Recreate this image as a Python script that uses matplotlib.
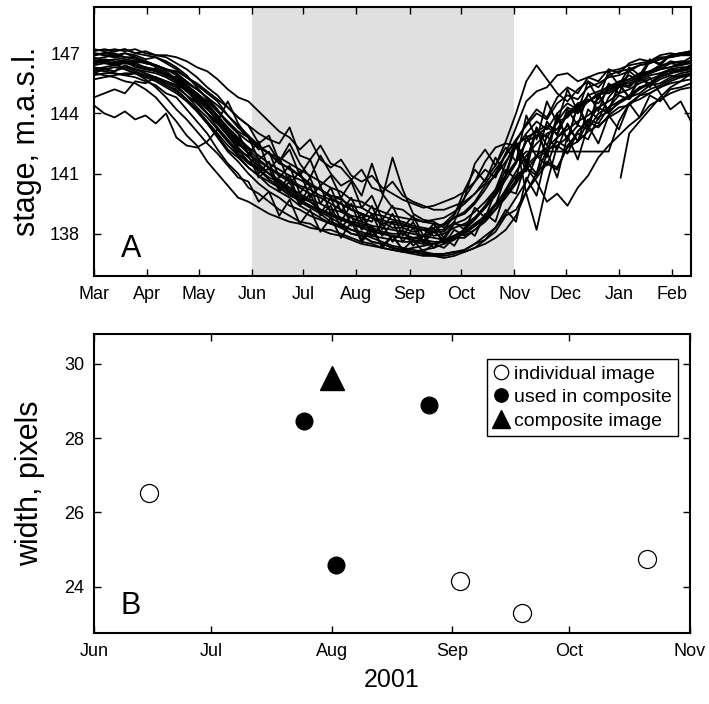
import matplotlib
matplotlib.use("Agg")
import matplotlib.pyplot as plt

plt.rcParams['font.family'] = ['Liberation Sans', 'DejaVu Sans']

# ---- panel A: stage, one line per year, read every 6 days starting Mar 1
days = list(range(0, 349, 6))

years = [
    [147.2, 147.1, 147.2, 147.1, 147.2, 147.0, 146.9, 146.8, 146.5, 146.2,
     145.8, 145.3, 144.9, 144.3, 143.8, 143.4, 142.5, 142.9, 141.6, 142.2,
     140.9, 141.7, 140.4, 140.9, 139.8, 140.6, 139.3, 139.9, 138.7, 139.4,
     138.3, 138.9, 137.9, 138.5, 137.8, 138.6, 138.2, 139.3, 138.8, 140.1,
     141.2, 140.7, 142.9, 141.8, 143.6, 142.9, 144.2, 143.4, 145.0, 144.1,
     145.5, 145.0, 146.1, 145.7, 146.6, 146.5, 146.9, 147.0, 147.1],
    [146.9, 147.0, 146.9, 147.0, 146.8, 146.6, 146.4, 146.2, 146.0, 145.5,
     145.2, 144.8, 144.2, 143.5, 143.0, 142.0, 142.6, 141.2, 141.8, 140.5,
     141.1, 139.8, 140.4, 139.0, 139.6, 138.4, 139.0, 137.9, 138.5, 137.6,
     138.2, 137.4, 137.9, 137.3, 137.8, 137.4, 138.3, 137.9, 139.0, 138.6,
     140.2, 140.0, 141.6, 141.0, 142.9, 142.2, 143.5, 142.6, 144.2, 143.7,
     144.8, 145.4, 145.3, 145.8, 146.1, 146.2, 146.5, 146.4, 146.6],
    [146.5, 146.6, 146.4, 146.6, 146.3, 146.2, 146.2, 145.9, 145.8, 145.3,
     144.6, 144.0, 143.5, 142.9, 142.2, 141.6, 141.2, 140.7, 140.4, 140.0,
     139.6, 139.3, 139.0, 138.6, 138.4, 138.0, 137.9, 137.6, 137.5, 137.3,
     137.2, 137.1, 137.0, 136.9, 136.9, 137.0, 137.2, 137.5, 137.9, 138.3,
     139.0, 139.8, 140.6, 141.9, 141.4, 142.8, 143.4, 142.6, 143.6, 144.3,
     144.0, 144.6, 144.9, 145.3, 145.4, 145.7, 145.9, 145.8, 146.0],
    [144.4, 144.0, 143.8, 144.1, 143.7, 143.9, 143.5, 144.0, 142.8, 142.4,
     142.3, 142.6, 143.2, 142.6, 142.0, 141.5, 141.2, 140.8, 140.6, 140.1,
     139.8, 139.6, 139.2, 139.0, 138.8, 138.6, 138.5, 138.3, 138.1, 138.0,
     138.0, 137.8, 137.7, 137.6, 137.6, 137.8, 138.0, 138.4, 138.7, 139.2,
     139.8, 140.5, 141.3, 140.9, 142.2, 142.4, 142.0, 143.1, 143.6, 143.3,
     143.9, 144.3, 144.4, 144.9, 145.0, 145.3, 145.5, 145.6, 145.7],
    [144.8, 145.0, 145.2, 145.0, 145.6, 145.5, 145.8, 145.6, 145.4, 145.2,
     145.0, 144.6, 144.1, 143.5, 143.0, 142.6, 142.3, 142.0, 141.5, 141.3,
     140.9, 140.4, 140.2, 139.8, 139.5, 139.2, 139.0, 138.8, 138.6, 138.3,
     138.3, 138.1, 138.2, 137.9, 138.0, 138.3, 138.5, 138.8, 139.3, 140.0,
     140.9, 142.6, 141.4, 143.2, 141.9, 143.8, 142.7, 144.4, 143.2, 144.9,
     144.1, 145.4, 144.8, 145.7, 145.5, 145.9, 146.2, 146.1, 146.4],
    [146.8, 146.6, 146.5, 146.2, 146.0, 145.7, 145.3, 144.8, 144.2, 143.7,
     143.1, 142.5, 142.0, 141.4, 140.8, 140.6, 139.6, 140.1, 138.9, 139.7,
     138.5, 139.2, 138.1, 138.8, 137.8, 138.6, 137.6, 138.2, 137.4, 137.9,
     137.2, 137.7, 137.1, 137.5, 137.3, 137.8, 137.8, 138.2, 138.6, 139.2,
     140.0, 140.6, 141.2, 141.8, 142.1, 142.6, 142.3, 143.1, 143.7, 143.5,
     144.3, 144.6, 144.8, 145.2, 145.5, 145.8, 146.0, 146.2, 146.3],
    [146.9, 147.0, 147.1, 147.2, 147.0, 147.1, 146.9, 146.9, 146.8, 146.6,
     146.3, 146.1, 145.7, 145.2, 144.8, 144.6, 144.1, 143.6, 143.1, 142.8,
     142.2, 142.7, 141.7, 141.3, 141.7, 140.9, 140.6, 140.9, 140.3, 140.0,
     139.7, 139.5, 139.3, 139.4, 139.6, 139.8, 140.1, 140.6, 141.2, 140.8,
     142.0, 142.6, 143.5, 144.2, 143.8, 144.8, 145.3, 145.0, 145.8, 145.6,
     146.2, 146.0, 146.5, 146.7, 146.6, 146.9, 147.0, 146.9, 147.1],
    [146.0, 146.2, 146.1, 146.3, 146.1, 145.9, 145.8, 145.5, 145.3, 144.9,
     144.5, 144.0, 143.6, 144.6, 143.5, 142.8, 142.2, 142.4, 141.6, 142.5,
     141.5, 140.8, 141.9, 141.0, 140.4, 140.7, 139.9, 141.5, 140.0, 139.3,
     139.2, 138.8, 138.6, 138.5, 138.4, 138.8, 139.1, 139.6, 140.4, 140.9,
     141.6, 142.3, 143.0, 143.6, 143.2, 144.0, 144.5, 144.2, 144.9, 145.1,
     145.3, 145.6, 145.7, 145.9, 146.1, 146.3, 146.6, 146.5, 146.8],
    [146.6, 146.7, 146.6, 146.5, 146.4, 146.3, 146.1, 145.9, 145.8, 145.4,
     145.0, 144.4, 143.9, 143.2, 142.6, 142.0, 141.5, 141.0, 140.5, 140.1,
     139.7, 139.4, 139.1, 138.8, 138.5, 138.2, 138.0, 137.8, 137.6, 137.4,
     137.3, 137.2, 137.1, 137.0, 137.0, 137.1, 137.2, 137.5, 137.7, 138.3,
     139.2, 138.6, 140.8, 139.9, 142.1, 140.8, 142.9, 141.7, 143.4, 142.5,
     143.9, 143.2, 144.5, 143.8, 144.9, 144.6, 145.2, 145.3, 145.5],
    [146.2, 146.1, 146.0, 145.9, 145.8, 145.6, 145.4, 145.0, 144.8, 144.2,
     143.6, 143.0, 142.2, 141.5, 141.0, 140.3, 140.0, 139.6, 139.2, 138.9,
     138.6, 138.5, 138.2, 138.2, 138.0, 137.8, 137.6, 137.5, 137.3, 137.2,
     137.1, 137.0, 136.9, 136.9, 136.8, 136.9, 137.1, 137.3, 137.7, 138.1,
     138.9, 139.2, 140.1, 140.8, 141.5, 141.2, 142.4, 143.0, 142.7, 143.8,
     144.1, 144.5, 144.8, 145.0, 145.4, 145.5, 145.8, 146.0, 146.1],
    [147.0, 146.9, 146.8, 147.0, 146.9, 146.7, 146.8, 146.5, 146.2, 145.8,
     145.4, 145.0, 144.6, 143.9, 143.4, 142.9, 142.4, 142.0, 141.6, 141.2,
     140.9, 140.5, 140.2, 139.9, 139.8, 139.2, 139.0, 138.8, 138.5, 138.6,
     138.5, 138.3, 138.2, 138.1, 138.1, 138.6, 139.8, 141.5, 142.2, 141.4,
     142.3, 141.6, 143.9, 142.7, 144.6, 143.5, 145.2, 144.1, 145.6, 144.7,
     146.1, 145.4, 146.3, 145.9, 146.7, 146.4, 146.9, 147.0, 146.9],
    [146.4, 146.5, 146.5, 146.6, 146.5, 146.6, 146.3, 146.0, 145.6, 145.1,
     144.7, 144.2, 143.7, 143.1, 142.5, 142.0, 141.6, 141.3, 140.9, 140.6,
     140.3, 140.0, 139.8, 139.5, 139.2, 138.9, 138.8, 138.6, 139.8, 141.8,
     140.2, 139.0, 138.7, 138.6, 138.3, 138.5, 138.7, 139.1, 139.6, 140.2,
     140.9, 141.6, 142.6, 142.9, 143.3, 143.0, 144.0, 144.5, 144.7, 144.5,
     145.2, 145.4, 145.6, 145.8, 146.0, 146.2, 146.3, 146.5, 146.6],
    [146.1, 146.2, 146.3, 146.2, 146.0, 145.9, 145.7, 145.4, 145.1, 144.7,
     144.2, 143.6, 143.0, 142.4, 141.9, 141.3, 140.9, 140.6, 140.3, 139.9,
     139.7, 139.4, 139.2, 139.0, 138.8, 138.5, 138.4, 138.2, 138.0, 137.9,
     137.8, 137.7, 137.6, 137.5, 137.7, 137.9, 138.2, 138.8, 139.4, 140.2,
     141.5, 142.6, 140.0, 138.2, 140.5, 142.4, 142.8, 143.4, 143.2, 144.0,
     144.3, 144.9, 144.7, 145.3, 145.5, 145.9, 146.0, 146.2, 146.4],
    [146.7, 146.8, 146.9, 146.8, 146.8, 146.5, 146.4, 146.2, 146.0, 145.6,
     145.2, 144.8, 144.4, 143.9, 143.3, 142.8, 142.4, 142.0, 141.8, 141.5,
     141.2, 140.9, 140.6, 140.3, 140.1, 139.7, 139.6, 139.3, 139.1, 138.9,
     138.8, 138.7, 138.6, 138.7, 138.8, 139.1, 139.5, 140.0, 140.7, 141.4,
     142.6, 144.0, 145.6, 146.4, 145.7, 145.0, 144.6, 145.2, 145.6, 145.3,
     145.9, 146.1, 146.2, 146.4, 146.5, 146.7, 146.9, 147.0, 147.1],
    [145.7, 145.8, 145.9, 146.0, 146.0, 145.9, 145.7, 145.4, 145.2, 144.7,
     144.1, 143.5, 142.8, 142.1, 141.6, 141.0, 140.5, 140.1, 139.8, 139.4,
     139.2, 138.9, 138.7, 138.5, 138.4, 138.2, 138.1, 137.9, 137.8, 137.7,
     137.6, 137.6, 137.5, 137.5, 137.6, 137.8, 138.0, 138.4, 138.9, 139.5,
     140.1, 140.9, 141.3, 140.6, 139.6, 140.0, 139.4, 140.3, 140.9, 141.8,
     142.4, 142.9, 143.4, 143.8, 144.4, 144.7, 145.0, 145.2, 145.3],
    [146.9, 147.0, 147.0, 146.8, 146.7, 146.5, 146.4, 146.1, 145.7, 145.3,
     144.8, 144.3, 143.6, 143.0, 142.4, 142.3, 141.0, 141.6, 140.2, 140.9,
     139.5, 140.4, 139.0, 139.8, 138.6, 139.5, 138.2, 139.0, 137.9, 138.6,
     137.6, 138.3, 137.5, 138.1, 137.7, 138.5, 138.4, 138.8, 139.3, 139.9,
     140.7, 141.5, 142.6, 143.2, 142.8, 143.6, 144.3, 144.0, 144.6, 144.9,
     145.4, 145.5, 145.9, 145.6, 145.8, 145.0, 144.2, 144.6, 143.6],
    [146.3, 146.2, 146.1, 146.4, 146.2, 146.0, 145.8, 145.6, 145.4, 144.9,
     144.3, 143.8, 143.2, 142.6, 142.0, 141.6, 141.3, 141.0, 140.7, 140.3,
     140.0, 139.7, 139.5, 139.2, 139.1, 138.8, 138.6, 138.4, 138.3, 138.2,
     138.1, 138.0, 137.9, 137.8, 137.7, 137.9, 138.1, 138.5, 138.8, 139.4,
     140.9, 142.4, 141.1, 143.3, 141.8, 144.0, 142.6, 144.5, 143.3, 145.0,
     144.1, 145.5, 144.8, 145.9, 145.3, 146.0, 146.1, 146.2, 146.2],
    [146.0, 145.9, 145.8, 145.6, 145.5, 145.2, 144.8, 144.2, 143.6, 142.9,
     142.4, 141.6, 141.0, 140.4, 139.8, 139.6, 139.3, 139.0, 138.8, 138.6,
     138.5, 138.3, 138.2, 138.0, 137.9, 137.7, 137.5, 137.4, 137.3, 137.2,
     137.1, 137.1, 137.2, 137.3, 137.5, 137.7, 138.1, 138.5, 138.9, 139.4,
     139.9, 140.7, 141.4, 141.9, 142.3, 142.8, 143.2, 143.6, 143.9, 144.3,
     144.6, 145.0, 145.2, 145.5, 145.7, 145.9, 146.0, 146.1, 146.2],
    [146.5, 146.6, 146.7, 146.6, 146.6, 146.5, 146.4, 146.2, 146.1, 145.8,
     145.5, 145.1, 144.7, 144.3, 143.8, 143.4, 143.0, 142.7, 142.5, 143.3,
     141.9, 141.7, 142.4, 141.5, 141.3, 140.7, 141.2, 140.3, 140.1, 140.6,
     139.9, 139.6, 139.4, 139.2, 139.2, 139.4, 139.6, 140.0, 140.5, 141.2,
     141.9, 142.7, 143.4, 144.0, 143.7, 144.5, 144.9, 144.7, 145.3, 145.5,
     145.8, 145.9, 146.1, 146.4, 146.5, 146.7, 146.8, 146.9, 146.9],
    [147.1, 147.2, 147.1, 147.2, 147.0, 146.9, 146.8, 146.6, 146.3, 145.9,
     145.3, 144.7, 144.1, 143.6, 143.1, 142.8, 141.7, 142.1, 140.8, 141.4,
     140.0, 140.8, 139.5, 140.3, 139.1, 139.8, 138.6, 139.4, 138.2, 139.0,
     137.9, 138.6, 137.6, 138.3, 137.5, 138.2, 137.9, 138.2, 138.7, 139.4,
     140.2, 141.1, 141.9, 142.5, 143.0, 143.2, 143.9, 144.2, 144.6, 144.9,
     145.2, 145.5, 145.7, 146.0, 146.1, 146.4, 146.5, 146.6, 146.6],
    [145.9, 146.0, 146.0, 145.9, 146.0, 145.8, 145.6, 145.3, 145.0, 144.6,
     144.1, 143.5, 142.9, 142.2, 141.8, 141.3, 140.9, 140.4, 140.1, 139.8,
     139.4, 139.1, 138.8, 138.5, 138.3, 138.0, 137.9, 137.6, 137.5, 137.3,
     137.2, 137.1, 137.0, 137.0, 137.0, 137.1, 137.1, 137.3, 137.5, 137.8,
     138.2, 138.9, 140.1, 141.0, 141.6, 141.3, 142.3, 142.6, 143.1, 143.4,
     143.8, 144.1, 144.5, 144.7, 145.0, 145.3, 145.6, 145.8, 145.9],
    [146.6, 146.5, 146.4, 146.5, 146.5, 146.3, 146.2, 145.9, 145.7, 145.3,
     144.9, 144.4, 143.8, 143.2, 142.7, 142.2, 141.7, 141.3, 141.0, 140.7,
     140.4, 140.2, 139.9, 139.7, 139.5, 139.2, 139.0, 138.8, 138.7, 138.5,
     138.4, 138.3, 138.2, 138.3, 138.5, 138.8, 139.0, 139.5, 140.2, 141.0,
     142.0, 143.3, 144.6, 145.1, 145.3, 145.9, 146.0, 145.6, 145.8, 146.0,
     146.1, 146.2, 146.4, 146.5, 146.6, 146.8, 146.8, 146.9, 146.9],
    [146.2, 146.3, 146.4, 146.3, 146.2, 146.1, 146.0, 145.8, 145.5, 145.1,
     144.6, 144.0, 143.5, 142.9, 142.3, 141.8, 141.4, 141.0, 140.6, 140.2,
     139.9, 139.6, 139.2, 138.9, 138.7, 138.5, 138.3, 138.1, 138.0, 137.9,
     137.8, 137.8, 137.9, 138.1, 138.5, 139.0, 139.8, 140.6, 141.6, 142.3,
     142.5, 142.4, 142.8, 143.1, 143.4, 143.2, 144.0, 144.3, 144.6, 144.9,
     145.1, 145.4, 145.5, 145.7, 145.9, 146.0, 146.2, 146.3, 146.3],
    [146.5, 146.6, 146.5, 146.6, 146.4, 146.2, 146.1, 145.9, 145.6, 145.2,
     144.5, 144.0, 143.3, 142.7, 142.1, 141.9, 140.8, 141.3, 140.1, 140.6,
     139.4, 140.0, 138.9, 139.4, 138.3, 138.9, 137.7, 138.4, 137.3, 137.9,
     137.2, 137.3, 137.4, 137.5, 137.7, 137.9, 138.2, 138.7, 139.3, 140.0,
     140.9, 141.6, 142.1, 142.1, 142.1, 142.1, 142.1, 142.1, 142.1, 142.1,
     142.1, 143.6, 144.5, 144.9, 145.2, 145.4, 145.7, 145.9, 146.0],
    [147.0, 146.9, 146.8, 146.7, 146.6, 146.6, 146.4, 146.2, 145.9, 145.4,
     145.0, 144.5, 143.9, 143.3, 142.8, 142.3, 141.9, 141.5, 141.2, 140.9,
     140.7, 140.4, 140.2, 139.9, 139.7, 139.4, 139.3, 139.0, 138.9, 138.7,
     138.6, 138.4, 138.3, 138.2, 138.2, 138.9, 140.2, 141.2, 140.6, 141.8,
     141.0, 142.5, 141.6, 143.3, 142.4, 143.6, 143.8, 144.4, 144.6, 145.0,
     145.0, 145.3, 145.4, 145.8, 146.0, 146.2, 146.3, 146.4, 146.5],
]

# a record that starts in early January
late_days = [307, 312, 318, 324, 330, 336, 342, 348]
late_vals = [140.8, 143.0, 143.6, 144.2, 144.8, 145.3, 145.6, 146.0]

month_days = [0, 31, 61, 92, 122, 153, 184, 214, 245, 275, 306, 337]
month_names = ['Mar', 'Apr', 'May', 'Jun', 'Jul', 'Aug', 'Sep', 'Oct', 'Nov', 'Dec', 'Jan', 'Feb']
season = (92, 245)  # Jun 1 - Nov 1

# ---- panel B: channel width, days since Jun 1 2001
indiv_day = [14, 94, 110, 142]
indiv_w = [26.52, 24.16, 23.31, 24.74]
used_day = [54, 62, 86]
used_w = [28.46, 24.6, 28.89]
comp_day = [61]
comp_w = [29.62]

b_ticks = [0, 30, 61, 92, 122, 153]
b_names = ['Jun', 'Jul', 'Aug', 'Sep', 'Oct', 'Nov']

fig = plt.figure(figsize=(7.09, 7.04), dpi=100)
ax1 = fig.add_axes([0.1326, 0.608, 0.842, 0.382])
ax2 = fig.add_axes([0.1326, 0.1009, 0.8406, 0.4247])

ax1.axvspan(season[0], season[1], color='#e0e0e0', lw=0, zorder=0)
for vals in years:
    ax1.plot(days, vals, color='black', lw=1.3, zorder=2)
ax1.plot(late_days, late_vals, color='black', lw=1.3, zorder=2)

ax1.set_xlim(0, 348)
ax1.set_ylim(135.9, 149.3)
ax1.set_xticks(month_days)
ax1.set_xticklabels(month_names)
ax1.set_yticks([138, 141, 144, 147])
ax1.set_ylabel('stage, m.a.s.l.', fontsize=22, labelpad=6)
ax1.text(0.045, 0.07, 'A', transform=ax1.transAxes, fontsize=22)

ax2.plot(indiv_day, indiv_w, 'o', ms=13, mfc='white', mec='black', mew=0.9,
         label='individual image', zorder=3)
ax2.plot(used_day, used_w, 'o', ms=12, mfc='black', mec='black',
         label='used in composite', zorder=3)
ax2.plot(comp_day, comp_w, '^', ms=17, mfc='black', mec='black',
         label='composite image', zorder=3)

ax2.set_xlim(0, 153)
ax2.set_ylim(22.76, 30.8)
ax2.set_xticks(b_ticks)
ax2.set_xticklabels(b_names)
ax2.set_yticks([24, 26, 28, 30])
ax2.set_xlabel('2001', fontsize=18, labelpad=6)
ax2.set_ylabel('width, pixels', fontsize=22, labelpad=14)
ax2.text(0.045, 0.065, 'B', transform=ax2.transAxes, fontsize=22)

leg = ax2.legend(loc='upper right', bbox_to_anchor=(0.98, 0.915), fontsize=14,
                 markerscale=0.8, handlelength=0.8, handletextpad=0.3,
                 borderpad=0.3, labelspacing=0.3, borderaxespad=0,
                 fancybox=False, framealpha=1)
leg.get_frame().set_edgecolor('black')
leg.get_frame().set_linewidth(1.0)

for ax in (ax1, ax2):
    for sp in ax.spines.values():
        sp.set_linewidth(1.5)
    ax.tick_params(direction='in', top=True, right=True, length=5, width=1,
                   labelsize=13, pad=7)
ax1.tick_params(axis='y', pad=10)

fig.savefig('out.png', dpi=100)
